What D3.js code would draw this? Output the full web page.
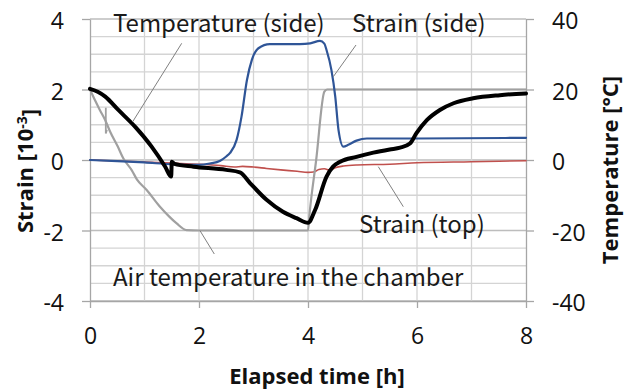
<!DOCTYPE html>
<html>
<head>
<meta charset="utf-8">
<script src="https://cdn.jsdelivr.net/npm/d3@7"></script>
<style>
  html, body { margin: 0; padding: 0; background: #fff; }
  svg { display: block; }
</style>
</head>
<body>
<svg id="chart" width="624" height="390"></svg>
<script>
// Elapsed time [h] and measured values for each series
const tempSideTime = [0, 0.15, 0.28, 0.52, 0.83, 1.13, 1.38, 1.49, 1.50, 1.55, 1.9, 2.5, 2.75, 2.94, 3.24, 3.54, 3.79, 4.0, 4.13, 4.34, 4.46, 4.59, 4.89, 5.2, 5.5, 5.69, 5.87, 5.99, 6.18, 6.42, 6.67, 7.03, 7.52, 8.0];
const tempSideVal  = [20.2, 19.3, 18, 14.2, 9.4, 3.8, -1.9, -4.7, -0.5, -1.1, -1.9, -2.8, -3.5, -6.6, -11.3, -14.7, -16.5, -17.8, -14.2, -4.7, -1.9, -0.5, 0.9, 2.1, 3.0, 3.5, 4.7, 7.6, 11.3, 14.2, 16.1, 17.5, 18.4, 18.9];

const airTime = [0, 0.09, 0.18, 0.28, 0.37, 0.51, 0.61, 0.77, 0.86, 1.04, 1.28, 1.45, 1.59, 1.77, 2.0, 2.5, 3.0, 3.5, 4.0, 4.03, 4.15, 4.3, 4.35, 5.0, 6.0, 7.0, 8.0];
const airVal  = [20, 17, 14.2, 11.3, 8, 3.8, 0.5, -3, -5.5, -8.5, -13.2, -16, -18, -19.9, -20, -20, -20, -20, -20, -15, 0, 19.4, 20, 20, 20, 20, 20];

// short sensor glitch in the air temperature record
const airGlitchTime = [0.29, 0.29, 0.31];
const airGlitchVal  = [14.8, 7.5, 8.6];

const strainSideTime = [0, 0.5, 1.0, 1.5, 2.0, 2.2, 2.39, 2.5, 2.57, 2.69, 2.78, 2.88, 2.97, 3.09, 3.3, 3.85, 4.04, 4.22, 4.3, 4.34, 4.43, 4.5, 4.56, 4.65, 4.74, 4.89, 5.08, 6.0, 8.0];
const strainSideVal  = [0, -0.03, -0.07, -0.12, -0.14, -0.1, -0.02, 0.1, 0.2, 0.57, 1.23, 2.27, 2.84, 3.17, 3.29, 3.29, 3.31, 3.38, 3.3, 3.12, 2.55, 1.8, 0.85, 0.38, 0.43, 0.55, 0.61, 0.61, 0.63];

const strainTopTime = [0, 0.5, 1.0, 1.5, 2.0, 2.4, 2.65, 2.8, 3.0, 3.24, 3.5, 3.8, 4.0, 4.1, 4.2, 4.3, 4.4, 4.5, 4.65, 4.9, 5.5, 6.0, 7.0, 8.0];
const strainTopVal  = [0, -0.03, -0.06, -0.09, -0.12, -0.16, -0.2, -0.18, -0.2, -0.24, -0.28, -0.32, -0.35, -0.34, -0.27, -0.25, -0.29, -0.22, -0.17, -0.14, -0.12, -0.08, -0.05, -0.02];

const xTicks = [0, 2, 4, 6, 8];
const strainTicks = [-4, -2, 0, 2, 4];
const tempTicks = [-40, -20, 0, 20, 40];

const labels = {
  x: "Elapsed time [h]",
  tempSide: "Temperature (side)",
  strainSide: "Strain (side)",
  strainTop: "Strain (top)",
  air: "Air temperature in the chamber"
};

const svg = d3.select("#chart");
const plotLeft = 90, plotRight = 526, plotTop = 19, plotBottom = 301;

const x = d3.scaleLinear().domain([0, 8]).range([plotLeft, plotRight]);
const yS = d3.scaleLinear().domain([-4, 4]).range([plotBottom, plotTop]);
const yT = d3.scaleLinear().domain([-40, 40]).range([plotBottom, plotTop]);

const tickFont = "'Open Sans', sans-serif";
const noteFont = "'Noto Sans CJK JP', 'Noto Sans', sans-serif";
const plainNumber = d => String(d);

// grid: minor lines every 0.5 strain / 1 h, major every 2
const g = svg.append("g");
d3.range(-4, 4.001, 0.5).forEach(v => {
  g.append("line")
    .attr("x1", plotLeft).attr("x2", plotRight)
    .attr("y1", yS(v)).attr("y2", yS(v))
    .attr("stroke", Number.isInteger(v / 2) ? "#bdbdbd" : "#d4d4d4")
    .attr("stroke-width", 1.3);
});
d3.range(1, 8, 1).forEach(v => {
  g.append("line")
    .attr("y1", plotTop).attr("y2", plotBottom)
    .attr("x1", x(v)).attr("x2", x(v))
    .attr("stroke", "#d4d4d4")
    .attr("stroke-width", 1.3);
});

// axes
function styleAxis(sel) {
  sel.select(".domain").attr("stroke", "#a6a6a6").attr("stroke-width", 1.3);
  sel.selectAll(".tick line").attr("stroke", "#a6a6a6").attr("stroke-width", 1.3);
  sel.selectAll(".tick text")
    .attr("font-family", tickFont).attr("font-size", 23).attr("fill", "#111");
}

svg.append("g")
  .attr("transform", `translate(${plotLeft},0)`)
  .call(d3.axisLeft(yS).tickValues(strainTicks).tickSize(8).tickSizeOuter(0).tickPadding(18).tickFormat(plainNumber))
  .call(styleAxis)
  .call(s => s.selectAll(".tick text").attr("dy", "0.43em"));

svg.append("g")
  .attr("transform", `translate(${plotRight},0)`)
  .call(d3.axisRight(yT).tickValues(tempTicks).tickSize(8).tickSizeOuter(0).tickPadding(18).tickFormat(plainNumber))
  .call(styleAxis)
  .call(s => s.selectAll(".tick text").attr("dy", "0.43em"));

svg.append("g")
  .attr("transform", `translate(0,${plotBottom})`)
  .call(d3.axisBottom(x).tickValues(xTicks).tickSize(7).tickSizeOuter(0).tickPadding(20).tickFormat(plainNumber))
  .call(styleAxis);

// series
const line = d3.line().curve(d3.curveMonotoneX);

function drawSeries(times, vals, yScale, color, width) {
  svg.append("path")
    .datum(times.map((t, i) => [x(t), yScale(vals[i])]))
    .attr("d", line)
    .attr("fill", "none")
    .attr("stroke", color)
    .attr("stroke-width", width)
    .attr("stroke-linejoin", "round")
    .attr("stroke-linecap", "round");
}

drawSeries(strainTopTime, strainTopVal, yS, "#c0504d", 1.6);
drawSeries(airTime, airVal, yT, "#a0a0a0", 2.2);
svg.append("path")
  .datum(airGlitchTime.map((t, i) => [x(t), yT(airGlitchVal[i])]))
  .attr("d", d3.line())
  .attr("fill", "none").attr("stroke", "#a0a0a0").attr("stroke-width", 1.8);
drawSeries(strainSideTime, strainSideVal, yS, "#2f5597", 2.2);
drawSeries(tempSideTime, tempSideVal, yT, "#000000", 4);

// callout leaders and labels
const leaders = [
  [[181.7, 43.3], [132.7, 121.7]],
  [[356, 45], [333.3, 76.7]],
  [[378.3, 166.7], [403.3, 206.7]],
  [[200, 230.7], [214.3, 254]]
];
leaders.forEach(p => {
  svg.append("line")
    .attr("x1", p[0][0]).attr("y1", p[0][1])
    .attr("x2", p[1][0]).attr("y2", p[1][1])
    .attr("stroke", "#808080").attr("stroke-width", 1);
});

const notes = [
  [labels.tempSide, 113, 32],
  [labels.strainSide, 352, 32],
  [labels.strainTop, 359, 233],
  [labels.air, 113, 286]
];
notes.forEach(n => {
  svg.append("text")
    .attr("x", n[1]).attr("y", n[2])
    .attr("font-family", noteFont).attr("font-size", 24)
    .attr("fill", "#1a1a1a")
    .text(n[0]);
});

// axis titles
svg.append("text")
  .attr("x", 317).attr("y", 384)
  .attr("text-anchor", "middle")
  .attr("font-family", tickFont).attr("font-weight", "bold").attr("font-size", 22)
  .attr("fill", "#111")
  .text(labels.x);

const ly = svg.append("text")
  .attr("transform", "translate(33,171) rotate(-90)")
  .attr("text-anchor", "middle")
  .attr("font-family", tickFont).attr("font-weight", "bold").attr("font-size", 22)
  .attr("fill", "#111");
ly.append("tspan").text("Strain [10");
ly.append("tspan").attr("dy", "-0.45em").attr("font-size", 14).text("-3");
ly.append("tspan").attr("dy", "0.45em").text("]");

svg.append("text")
  .attr("transform", "translate(618,170) rotate(-90)")
  .attr("text-anchor", "middle")
  .attr("font-family", tickFont).attr("font-weight", "bold").attr("font-size", 22)
  .attr("fill", "#111")
  .text("Temperature [°C]");
</script>
</body>
</html>
